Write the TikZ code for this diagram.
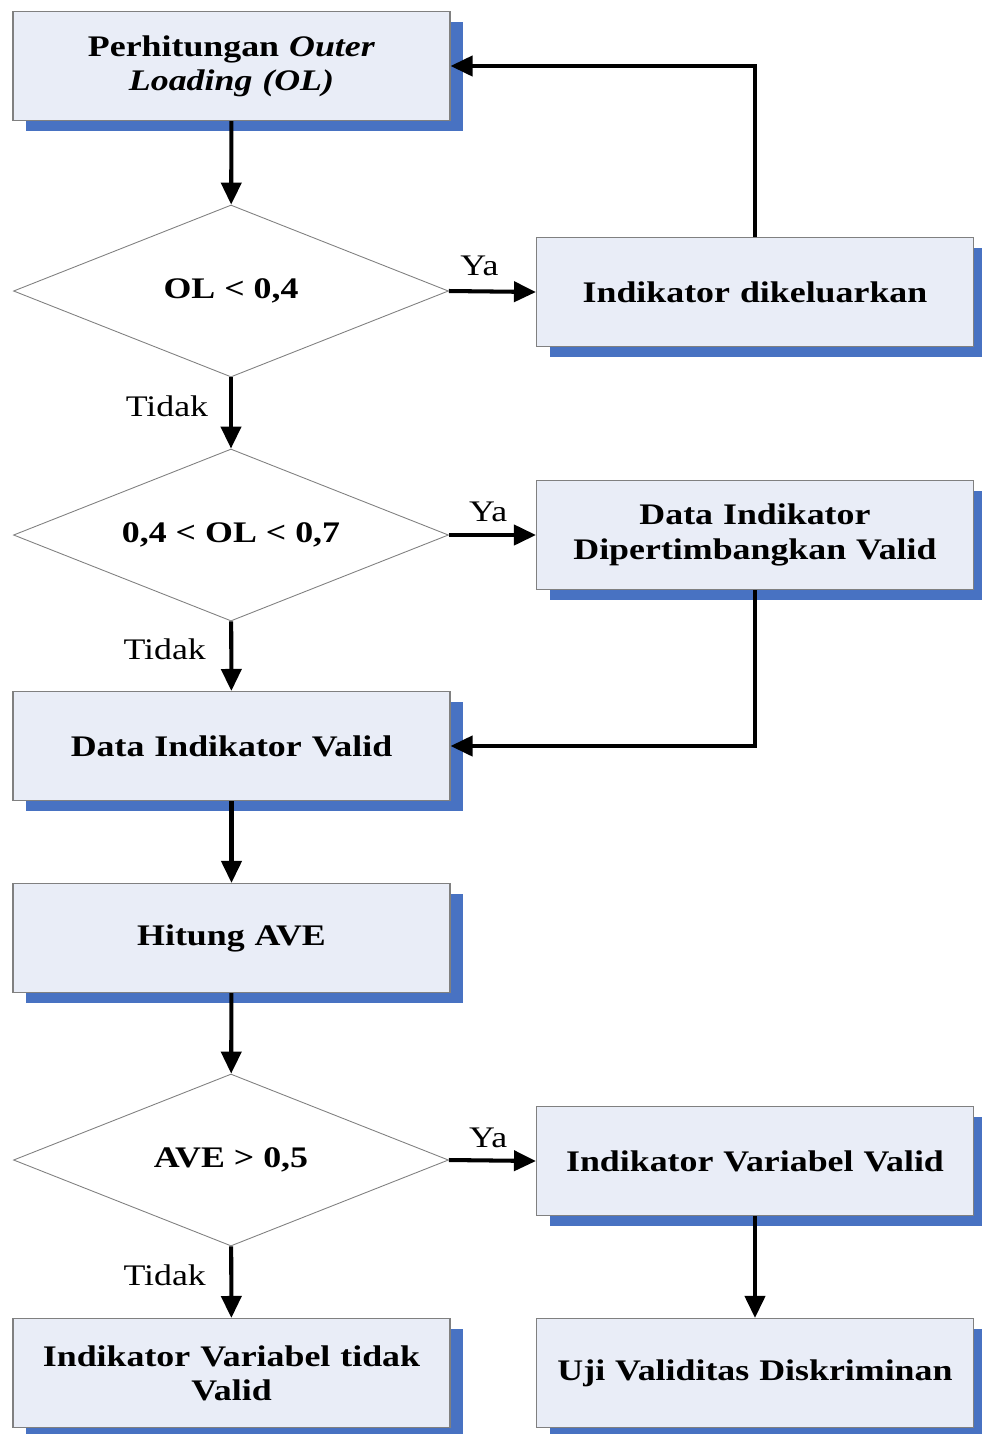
\documentclass[tikz,border=0pt]{standalone}
\usepackage{fontspec}
\setmainfont{Liberation Serif}[FakeStretch=1.2]
\usetikzlibrary{shapes.geometric,shadows,arrows.meta}
\definecolor{boxfill}{RGB}{233,237,247}
\definecolor{boxline}{RGB}{128,128,128}
\definecolor{shadowblue}{RGB}{72,114,194}
\begin{document}
\begin{tikzpicture}[
  prosesbox/.style={rectangle, draw=boxline, line width=0.6pt, fill=boxfill,
    minimum width=8.74cm, minimum height=2.18cm, text width=8.4cm, align=center,
    font=\fontsize{17}{19.5}\selectfont\bfseries,
    drop shadow={shadow xshift=0.26cm, shadow yshift=-0.2cm, fill=shadowblue, opacity=1}},
  keputusan/.style={diamond, aspect=2.53, draw=boxline, line width=0.5pt, fill=white,
    minimum width=8.7cm, minimum height=3.44cm, inner sep=0pt,
    font=\fontsize{17}{19.5}\selectfont\bfseries},
  panah/.style={line width=2.3pt, -{Triangle[length=0.44cm, width=0.4cm]}},
  jawab/.style={font=\fontsize{17}{19.5}\selectfont}
]
\useasboundingbox (0,0) rectangle (19.62,-28.68);

% Left column
\node[prosesbox] (ol) at (4.63, -1.32) {Perhitungan \textit{Outer}\\\textit{Loading (OL)}};
\node[keputusan] (d1) at (4.62, -5.82) {OL < 0,4};
\node[keputusan] (d2) at (4.62, -10.70) {0,4 < OL < 0,7};
\node[prosesbox] (valid) at (4.63, -14.92) {Data Indikator Valid};
\node[prosesbox] (ave) at (4.63, -18.76) {Hitung AVE};
\node[keputusan] (d3) at (4.62, -23.20) {AVE > 0,5};
\node[prosesbox] (tidakvalid) at (4.63, -27.46) {Indikator Variabel tidak\\Valid};

% Right column
\node[prosesbox] (keluar) at (15.10, -5.84) {Indikator dikeluarkan};
\node[prosesbox] (timbang) at (15.10, -10.70) {Data Indikator\\Dipertimbangkan Valid};
\node[prosesbox] (varvalid) at (15.10, -23.22) {Indikator Variabel Valid};
\node[prosesbox] (uji) at (15.10, -27.46) {Uji Validitas Diskriminan};

% Main flow
\draw[panah] (ol) -- (d1);
\draw[panah] (d1) -- node[jawab, left=0.3cm, pos=0.4] {Tidak} (d2);
\draw[panah] (d2) -- node[jawab, left=0.35cm, pos=0.4] {Tidak} (valid);
\draw[panah] (valid) -- (ave);
\draw[panah] (ave) -- (d3);
\draw[panah] (d3) -- node[jawab, left=0.35cm, pos=0.4] {Tidak} (tidakvalid);

% Ya branches
\draw[panah] (d1.east) -- node[jawab, above=0.15cm, pos=0.35] {Ya} (keluar.west);
\draw[panah] (d2.east) -- node[jawab, above=0.1cm, pos=0.45] {Ya} (timbang.west);
\draw[panah] (d3.east) -- node[jawab, above=0.1cm, pos=0.45] {Ya} (varvalid.west);
\draw[panah] (varvalid) -- (uji);

% Feedback lines
\draw[panah] (keluar.north) |- (ol.east);
\draw[panah] (timbang.south) |- (valid.east);

\end{tikzpicture}
\end{document}
